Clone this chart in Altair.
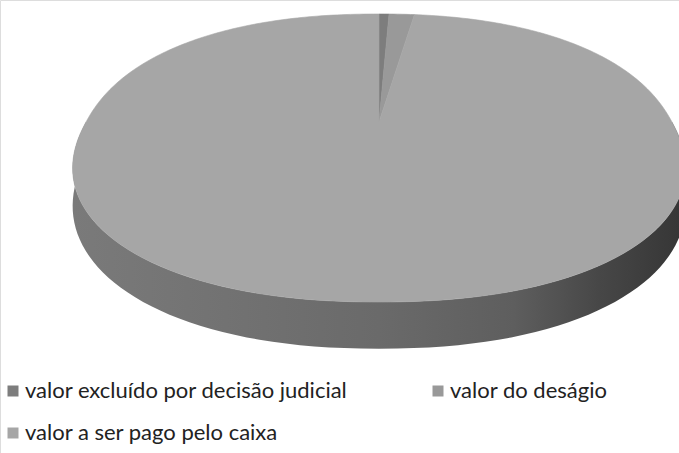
import altair as alt
import pandas as pd

# ---- data ----
categories = [
    "valor excluído por decisão judicial",
    "valor do deságio",
    "valor a ser pago pelo caixa",
]
values = [0.5, 1.5, 98.0]
colors = ["#7d7d7d", "#999999", "#a6a6a6"]

# legend entry order (legend grid fills column by column)
legend_order = [categories[0], categories[2], categories[1]]
legend_colors = [colors[0], colors[2], colors[1]]

# ---- layout constants (3D pie projection) ----
W, H_ = 679, 453
CX, CY = 379, 122      # projected centre of the top face
A, B = 293, 135        # radii before perspective
K = 0.25               # perspective strength
E = 0.91               # superellipse exponent (boxier outline)
DEPTH = 35             # thickness of the pie

slices = pd.DataFrame({"category": categories, "value": values, "idx": list(range(len(values)))})

xs = alt.Scale(domain=[0, W], nice=False, zero=False)
ys = alt.Scale(domain=[0, H_], nice=False, zero=False, reverse=True)

CU = f"(cos(datum.t) < 0 ? -1 : 1)*pow(abs(cos(datum.t)), {E})"
SU = f"(sin(datum.t) < 0 ? -1 : 1)*pow(abs(sin(datum.t)), {E})"

# --- side wall (front half of the cylinder) ---
side = (
    alt.Chart(slices)
    .transform_aggregate(total="sum(value)")
    .transform_calculate(n="90", pts="sequence(0, 182)")
    .transform_flatten(["pts"], as_=["i"])
    .transform_calculate(
        t="datum.i <= datum.n ? PI + PI*datum.i/datum.n : 2*PI - PI*(datum.i-datum.n-1)/datum.n",
    )
    .transform_calculate(cu=CU, su=SU)
    .transform_calculate(s=f"1 + {K}*datum.su")
    .transform_calculate(
        px=f"{CX} + {A}*datum.cu/datum.s",
        py=f"{CY} - {B}*datum.su/datum.s + (datum.i <= datum.n ? {DEPTH}/datum.s : 0)",
    )
    .mark_line(
        interpolate="linear-closed",
        strokeWidth=0,
        fill=alt.Gradient(
            gradient="linear",
            x1=0, x2=1, y1=0, y2=0,
            stops=[
                alt.GradientStop(color="#7a7a7a", offset=0),
                alt.GradientStop(color="#6a6a6a", offset=0.5),
                alt.GradientStop(color="#5e5e5e", offset=0.72),
                alt.GradientStop(color="#474747", offset=0.86),
                alt.GradientStop(color="#353535", offset=1),
            ],
        ),
    )
    .encode(
        x=alt.X("px:Q", scale=xs, axis=None),
        y=alt.Y("py:Q", scale=ys, axis=None),
        order=alt.Order("i:Q"),
    )
)

# --- top face slices ---
face = (
    alt.Chart(slices)
    .transform_window(cum="sum(value)", sort=[alt.SortField("idx")], frame=[None, 0])
    .transform_joinaggregate(total="sum(value)")
    .transform_calculate(
        a0="2*PI*(datum.cum - datum.value)/datum.total",
        a1="2*PI*datum.cum/datum.total",
    )
    .transform_calculate(n="max(2, ceil((datum.a1 - datum.a0)*60))")
    .transform_calculate(pts="sequence(0, datum.n + 2)")
    .transform_flatten(["pts"], as_=["i"])
    .transform_calculate(
        phi="datum.a0 + (datum.a1 - datum.a0)*min(datum.i, datum.n)/datum.n"
    )
    .transform_calculate(t="PI/2 - datum.phi")
    .transform_calculate(cu=CU, su=SU)
    .transform_calculate(s=f"1 + {K}*datum.su")
    .transform_calculate(
        px=f"datum.i > datum.n ? {CX} : {CX} + {A}*datum.cu/datum.s",
        py=f"datum.i > datum.n ? {CY} : {CY} - {B}*datum.su/datum.s",
    )
    .mark_line(interpolate="linear-closed", strokeWidth=0.6)
    .encode(
        x=alt.X("px:Q", scale=xs, axis=None),
        y=alt.Y("py:Q", scale=ys, axis=None),
        order=alt.Order("i:Q"),
        fill=alt.Fill(
            "category:N",
            scale=alt.Scale(domain=legend_order, range=legend_colors),
            sort=legend_order,
            legend=alt.Legend(
                title=None,
                orient="none",
                legendX=2,
                legendY=380,
                columns=2,
                symbolType="square",
                symbolSize=121,
                symbolStrokeWidth=0,
                labelFont="Lato",
                labelFontSize=22,
                labelColor="#222222",
                labelOffset=1,
                columnPadding=79,
                rowPadding=20,
                labelLimit=400,
            ),
        ),
        stroke=alt.Stroke(
            "category:N",
            scale=alt.Scale(domain=legend_order, range=legend_colors),
            legend=None,
        ),
    )
)

chart = (
    alt.layer(side, face)
    .properties(width=W, height=H_, padding=0, autosize=alt.AutoSizeParams(type="none"))
    .configure_view(stroke=None)
    .configure(background="white")
)

chart.save("out.html", embed_options={"renderer": "svg", "actions": False})
